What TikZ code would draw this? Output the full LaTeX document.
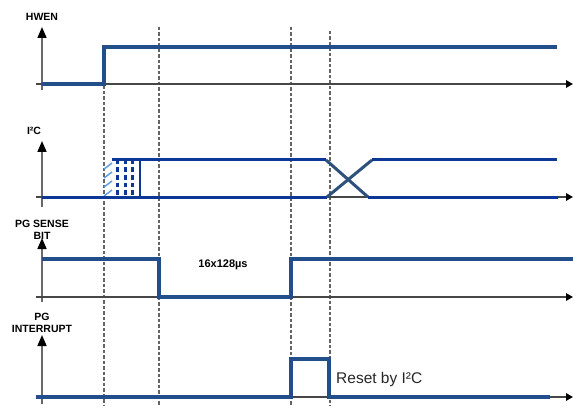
\documentclass[tikz,border=0pt]{standalone}
\usepackage{fontspec}
\setmainfont{Liberation Sans}
\usetikzlibrary{arrows.meta}
\definecolor{sigblue}{RGB}{35,78,140}
\definecolor{icblue}{RGB}{12,55,150}
\definecolor{xblue}{RGB}{45,80,125}
\definecolor{hatchblue}{RGB}{95,160,230}
\definecolor{axgray}{RGB}{105,105,105}
\definecolor{tgray}{RGB}{70,70,70}
\definecolor{guidegray}{RGB}{100,100,100}
\tikzset{
  vaxis/.style={draw=axgray,line width=1.6pt,-{Triangle[length=11pt,width=9pt,color=black,fill=black]}},
  taxis/.style={draw=tgray,line width=1.5pt,-{Triangle[length=7pt,width=7.5pt,color=black,fill=black]}},
  sig/.style={draw=sigblue,line width=3.2pt,line join=miter},
  icsig/.style={draw=icblue,line width=3pt},
  xsig/.style={draw=xblue,line width=3pt},
  guide/.style={draw=guidegray,line width=1.4pt,dash pattern=on 3.5pt off 2pt},
  lbl/.style={font=\bfseries\fontsize{10.5}{11}\selectfont,inner sep=0pt,text=black},
  note/.style={font=\fontsize{15.5}{16}\selectfont,inner sep=0pt,text=black!85}
}
\begin{document}
\begin{tikzpicture}[x=1pt,y=-1pt]
\useasboundingbox (0,0) rectangle (573,409);
% guide lines
\draw[guide] (104,47) -- (104,406);
\draw[guide] (159,27) -- (159,406);
\draw[guide] (291,27) -- (291,406);
\draw[guide] (330,31) -- (330,406);

% HWEN
\node[lbl] (hwen) at (42,17) {HWEN};
\coordinate (hwenb) at (42,90);
\coordinate (hwent) at (42,27);
\coordinate (hwenl) at (36,84);
\coordinate (hwenr) at (573,84);
\draw[vaxis] (hwenb) -- (hwent);
\draw[taxis] (hwenl) -- (hwenr);
\draw[sig] (42,84) -- (104,84) -- (104,47) -- (557,47);

% I2C
\node[lbl] (ic) at (34,131) {I²C};
\coordinate (icb) at (42,207);
\coordinate (ict) at (42,141);
\coordinate (icl) at (36,197);
\coordinate (icr) at (573,197);
\draw[vaxis] (icb) -- (ict);
\draw[taxis] (icl) -- (icr);
\foreach \y in {163,172,181,190}
  \draw[hatchblue,line width=1.5pt] (104,\y+6) -- (112,\y);
\foreach \x in {117,125,132}
  \draw[icblue,line width=3pt,dash pattern=on 4.5pt off 3pt] (\x,160) -- (\x,197);
\draw[icblue,line width=2.4pt] (140,160) -- (140,197);
\draw[icsig] (42,197) -- (327,197);
\draw[icsig] (112,160) -- (326,160);
\draw[xsig] (326,160) -- (368,197);
\draw[xsig] (327,197) -- (372,160);
\draw[icsig] (372,160) -- (557,160);
\draw[icsig] (368,197) -- (558,197);

% PG SENSE BIT
\node[lbl] (pgs) at (42,224) {PG SENSE};
\node[lbl] (bit) at (42,236) {BIT};
\coordinate (pgsb) at (42,302);
\coordinate (pgst) at (42,238);
\coordinate (pgsl) at (36,297);
\coordinate (pgsr) at (573,297);
\draw[vaxis] (pgsb) -- (pgst);
\draw[taxis] (pgsl) -- (pgsr);
\draw[sig] (42,259) -- (159,259) -- (159,297) -- (291,297) -- (291,259) -- (573,259);
\node[lbl,font=\bfseries\fontsize{11}{12}\selectfont] (dur) at (223,265) {16x128µs};

% PG INTERRUPT
\node[lbl] (pgi) at (42,317) {PG};
\node[lbl] (intr) at (42,329) {INTERRUPT};
\coordinate (pgib) at (42,404);
\coordinate (pgit) at (42,335);
\coordinate (pgil) at (36,397);
\coordinate (pgir) at (573,397);
\draw[vaxis] (pgib) -- (pgit);
\draw[taxis] (pgil) -- (pgir);
\draw[sig] (36,397) -- (291,397) -- (291,359) -- (329,359) -- (329,397) -- (550,397);
\node[note,anchor=west] (reset) at (336,379) {Reset by I²C};
\end{tikzpicture}
\end{document}
